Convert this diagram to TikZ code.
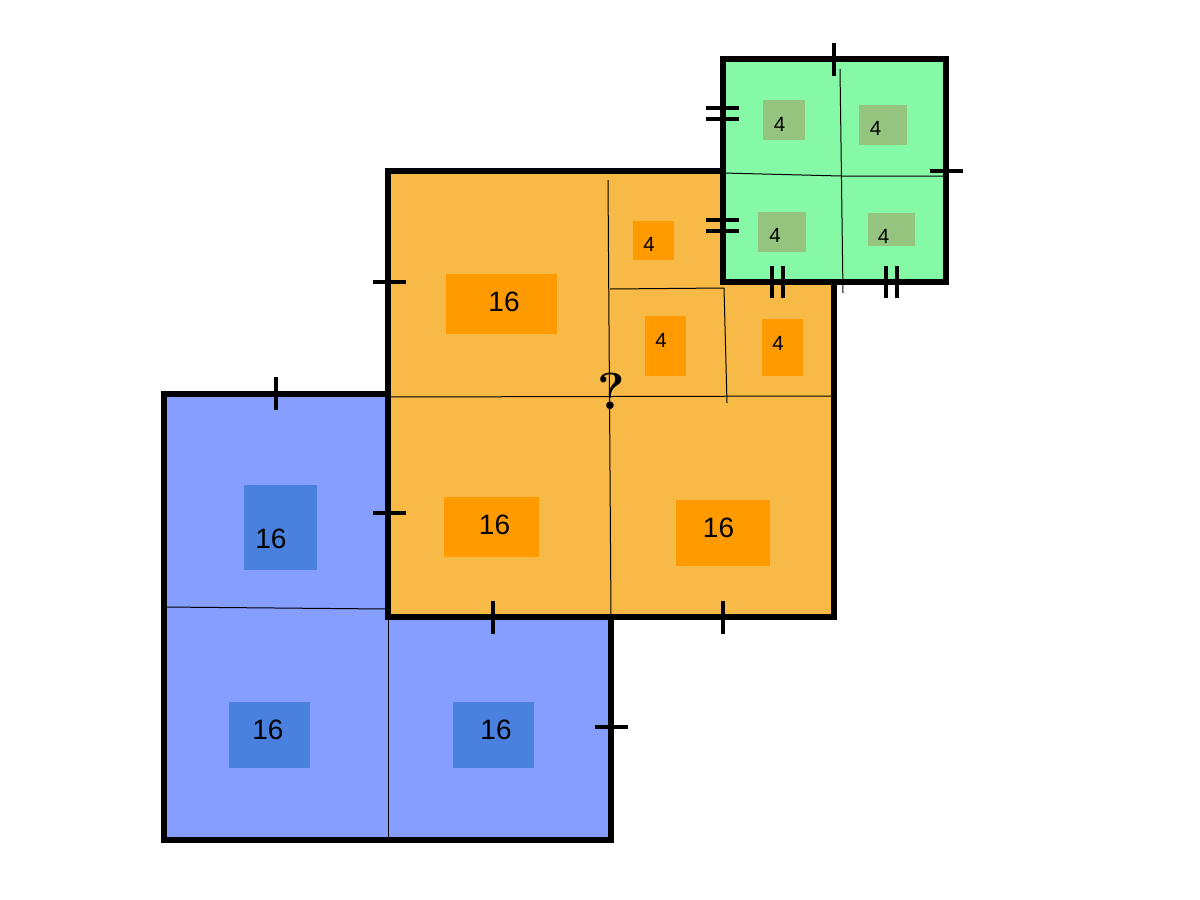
\documentclass[tikz,border=0pt]{standalone}
\usepackage{fontspec}
\newfontfamily\labelfont{Liberation Sans}
\usetikzlibrary{positioning}
\definecolor{blueface}{RGB}{133,158,255}
\definecolor{bluebox}{RGB}{74,128,222}
\definecolor{orangeface}{RGB}{247,186,71}
\definecolor{orangebox}{RGB}{255,154,0}
\definecolor{greenface}{RGB}{134,249,166}
\definecolor{greenbox}{RGB}{148,196,126}
\tikzset{
    outer/.style={line width=6pt,draw=black},
    divider/.style={line width=1pt},
    tick/.style={line width=4pt},
    cell/.style={inner sep=0pt,draw=none},
    big/.style={inner sep=0pt,font=\labelfont\fontsize{28}{30}\selectfont},
    small/.style={inner sep=0pt,font=\labelfont\fontsize{20.5}{22}\selectfont}
}
\begin{document}
\begin{tikzpicture}[x=1pt,y=-1pt]
        \useasboundingbox (0,0) rectangle (1200,900);

        %blue square
        \filldraw[outer,fill=blueface] (164,394) rectangle (611,840);
        \draw[divider] (164,607) -- (387,609);
        \draw[divider] (388,617) -- (388,840);
        \begin{scope}[every node/.style={cell,fill=bluebox}]
            \node[minimum width=73pt,minimum height=85pt] (bA) at (280.5,527.5) {};
            \node[minimum width=81pt,minimum height=66pt] (bB) at (269.5,735) {};
            \node[minimum width=81pt,minimum height=66pt] (bC) at (493.5,735) {};
        \end{scope}
        \node[big] (bAt) at (271,539) {16};
        \node[big] (bBt) at (268,730) {16};
        \node[big] (bCt) at (496,730) {16};

        %orange square
        \filldraw[outer,fill=orangeface] (388,171) rectangle (834,617);
        \draw[divider] (608,180) -- (611,617);
        \draw[divider] (388,397) -- (833,396);
        \draw[divider] (610,289) -- (724,288) -- (727,403);
        \begin{scope}[every node/.style={cell,fill=orangebox}]
            \node[minimum width=111pt,minimum height=60pt] (oA) at (501.5,304) {};
            \node[minimum width=95pt,minimum height=60pt] (oB) at (491.5,527) {};
            \node[minimum width=94pt,minimum height=66pt] (oC) at (723,533) {};
            \node[minimum width=41pt,minimum height=39pt] (oD) at (653.5,240.5) {};
            \node[minimum width=41pt,minimum height=60pt] (oE) at (665.5,346) {};
            \node[minimum width=41pt,minimum height=57pt] (oF) at (782.5,347.5) {};
        \end{scope}
        \node[big] (oAt) at (504,302) {16};
        \node[big] (oBt) at (494.5,525) {16};
        \node[big] (oCt) at (718.5,528) {16};
        \node[small] (oDt) at (649,244) {4};
        \node[small] (oEt) at (661,340) {4};
        \node[small] (oFt) at (778,343) {4};

        %green square
        \filldraw[outer,fill=greenface] (723,59) rectangle (946,282);
        \draw[divider] (840,69) -- (843,293);
        \draw[divider] (723,173) -- (841,176) -- (946,176);
        \begin{scope}[every node/.style={cell,fill=greenbox}]
            \node[minimum width=42pt,minimum height=40pt] (gA) at (784,120) {};
            \node[minimum width=48pt,minimum height=40pt] (gB) at (883,125) {};
            \node[minimum width=48pt,minimum height=40pt] (gC) at (782,232) {};
            \node[minimum width=47pt,minimum height=33pt] (gD) at (891.5,229.5) {};
        \end{scope}
        \node[small] (gAt) at (779.5,124) {4};
        \node[small] (gBt) at (875.5,128.5) {4};
        \node[small] (gCt) at (775,235) {4};
        \node[small] (gDt) at (883.5,236.5) {4};

        %ticks
        \foreach \x/\y in {276/393,493/617,723/617,834/59}
            \draw[tick] (\x,\y-16.5) -- ++(0,33);
        \foreach \x/\y in {389/513,611.5/727,389/282,946.5/171}
            \draw[tick] (\x-16.5,\y) -- ++(33,0);
        \foreach \x in {777.5,891.5}
            \foreach \d in {-5.5,5.5}
                \draw[tick] (\x+\d,266) -- ++(0,32);
        \foreach \y in {113.5,225.5}
            \foreach \d in {-5.5,5.5}
                \draw[tick] (706,\y+\d) -- ++(33,0);

        \node[inner sep=0pt,font=\bfseries\fontsize{52}{52}\selectfont] (ask) at (611,391) {?};
\end{tikzpicture}
\end{document}
